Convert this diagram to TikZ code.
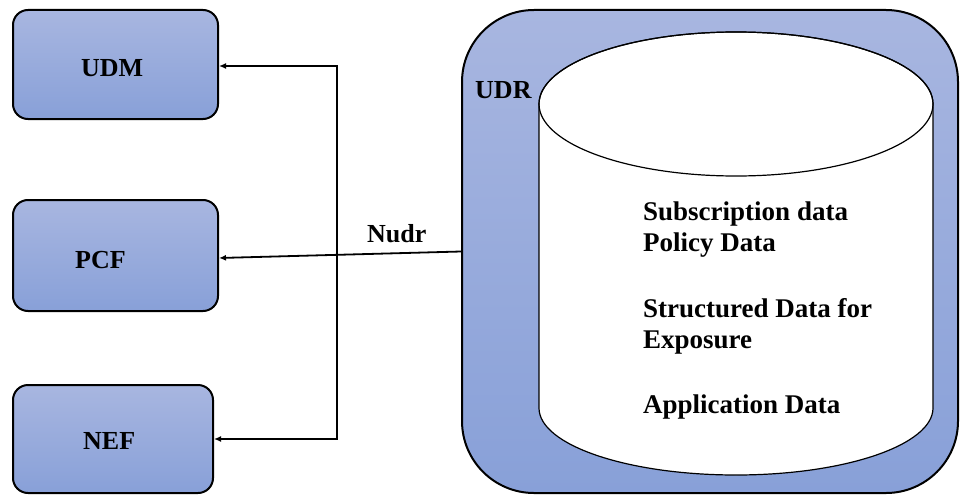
\documentclass[tikz,border=0pt]{standalone}
\usepackage{fontspec}
\setmainfont{Liberation Serif}
\usetikzlibrary{arrows.meta,calc}
\definecolor{boxtop}{RGB}{168,182,224}
\definecolor{boxbot}{RGB}{136,160,216}
\begin{document}
\begin{tikzpicture}[x=1pt,y=-1pt,
  nfbox/.style={draw=black,line width=2pt,rounded corners=15pt,top color=boxtop,bottom color=boxbot,
    minimum width=205pt,minimum height=109pt,inner sep=0pt},
  arr/.style={line width=1.8pt,-{Latex[length=7pt,width=6pt]}},
  lbl/.style={anchor=base west,inner sep=0pt,font=\fontsize{26}{30}\selectfont\bfseries},
  dtxt/.style={anchor=base west,inner sep=0pt,font=\fontsize{27}{31}\selectfont\bfseries}]
\useasboundingbox (0,0) rectangle (960,495);
% NF boxes
\node[nfbox] (udm) at (115.5,64.5) {};
\node[nfbox,minimum height=111pt] (pcf) at (115.5,255.5) {};
\node[nfbox,minimum width=200pt,minimum height=108pt] (nef) at (113,439) {};
\node[lbl] (udmt) at (81,76) {UDM};
\node[lbl] (pcft) at (75,268) {PCF};
\node[lbl] (neft) at (83,449) {NEF};
% UDR container
\node[draw=black,line width=2pt,rounded corners=72pt,top color=boxtop,bottom color=boxbot,
  minimum width=496pt,minimum height=483pt,inner sep=0pt] (udr) at (710,251.5) {};
\node[lbl] (udrt) at (475,98) {UDR};
% cylinder
\draw[line width=1.2pt,fill=white] (539,104) -- (539,408) arc[start angle=180,end angle=360,x radius=197,y radius=-67] -- (933,104) arc[start angle=0,end angle=180,x radius=197,y radius=-72] -- cycle;
\draw[line width=1.2pt] (736,104) ellipse[x radius=197,y radius=72];
% data text
\node[dtxt] (d1) at (643,220) {Subscription data};
\node[dtxt] (d2) at (643,251) {Policy Data};
\node[dtxt] (d3) at (643,317) {Structured Data for};
\node[dtxt] (d4) at (643,348) {Exposure};
\node[dtxt] (d5) at (643,413) {Application Data};
% connectors
\coordinate (jt) at (337,66);
\coordinate (jb) at (337,439);
\draw[arr] (jt) -- ([yshift=-1.5pt]udm.east);
\draw[arr,line cap=rect] (jt) -- (jb) -- (nef.east);
\draw[arr] (udr.west) -- ([yshift=-2.5pt]pcf.east);
\node[lbl] (nudr) at (367,242) {Nudr};
\end{tikzpicture}
\end{document}
